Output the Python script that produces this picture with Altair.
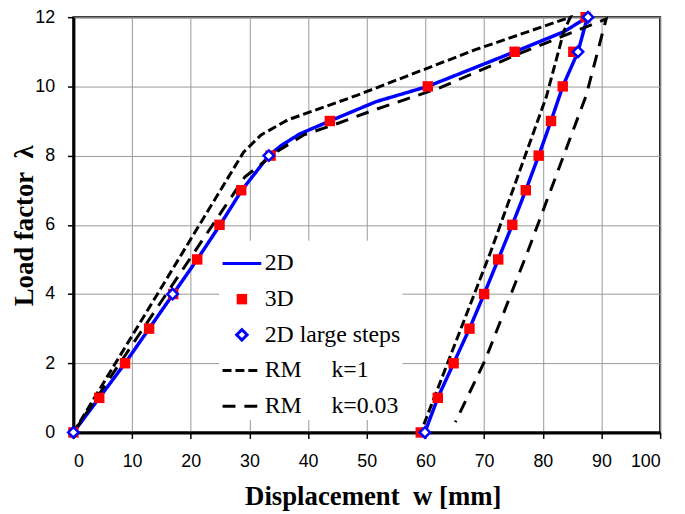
import altair as alt
import pandas as pd

# ---- data ----
S2D = "2D"
S3D = "3D"
SLS = "2D large steps"
SK1 = "RM\u00a0\u00a0\u00a0\u00a0\u00a0k=1"
SK3 = "RM\u00a0\u00a0\u00a0\u00a0\u00a0k=0.03"
series_names = [S2D, S3D, SLS, SK1, SK3]
stroke_colors = ["#0000ff", "transparent", "#0000ff", "#000000", "#000000"]
fill_colors = ["transparent", "#ff0000", "#ffffff", "transparent", "transparent"]
# symbol outlines in units of half the symbol box (box = 39 px)
LINE_PATH = "M-1,0H1"
SQUARE_PATH = "M-0.27,-0.27H0.27V0.27H-0.27Z"
DIAMOND_PATH = "M-0.27,0L0,-0.27L0.27,0L0,0.27Z"
symbol_shapes = [LINE_PATH, SQUARE_PATH, DIAMOND_PATH, LINE_PATH, LINE_PATH]
dash_styles = [[1, 0], [1, 0], [1, 0], [9, 4], [13, 9]]

w_2d = [0, 4.4, 8.8, 12.9, 17.0, 21.1, 25.0, 28.7, 33.3, 35.5, 38.5, 43.7, 51.6, 60.4, 75.2, 83.6, 87.6,
        86.0, 83.4, 81.4, 79.3, 77.1, 74.8, 72.4, 70.0, 67.5, 64.8, 62.1, 59.9]
lam_2d = [0, 1, 2, 3, 4, 5, 6, 7, 8, 8.3, 8.62, 9.0, 9.56, 10, 11, 11.58, 12,
          11, 10, 9, 8, 7, 6, 5, 4, 3, 2, 1, 0]

w_3d = [0, 4.4, 8.8, 12.9, 17.0, 21.1, 24.9, 28.6, 33.6, 43.7, 60.4, 75.2, 87.3,
        85.2, 83.4, 81.4, 79.3, 77.1, 74.8, 72.4, 70.0, 67.5, 64.8, 62.1, 59.2]
lam_3d = [0, 1, 2, 3, 4, 5, 6, 7, 8, 9, 10, 11, 12,
          11, 10, 9, 8, 7, 6, 5, 4, 3, 2, 1, 0]

w_ls = [0, 16.9, 33.3, 87.7, 86.0, 59.9]
lam_ls = [0, 4, 8, 12, 11, 0]

w_k1 = [0, 29.0, 32.0, 36.5, 48.3, 68.5, 84.7, 83.6, 80.6, 71.2, 59.2]
lam_k1 = [0, 8.1, 8.6, 9.03, 9.74, 11.06, 12, 11.6, 9.7, 5.26, 0]

w_k3 = [0, 29.2, 34.8, 39.3, 44.4, 51.1, 62.3, 76.3, 90.8, 87.4, 77.5, 70.2, 65.1]
lam_k3 = [0, 7.38, 8.13, 8.6, 8.89, 9.31, 9.95, 10.97, 11.95, 9.74, 5.26, 2.1, 0.3]

x_ticks = list(range(0, 101, 10))
y_ticks = list(range(0, 13, 2))

# ---- table ----
rows = []
for name, ws, ls in [(S2D, w_2d, lam_2d), (S3D, w_3d, lam_3d), (SLS, w_ls, lam_ls),
                     (SK1, w_k1, lam_k1), (SK3, w_k3, lam_k3)]:
    for i, (w, l) in enumerate(zip(ws, ls)):
        rows.append({"series": name, "w": w, "lam": l, "idx": i})
df = pd.DataFrame(rows)

legend = alt.Legend(
    title=None,
    orient="none",
    legendX=147,
    legendY=225.5,
    direction="vertical",
    fillColor="white",
    padding=2,
    labelFont="Liberation Serif",
    labelFontSize=24,
    labelColor="black",
    labelOffset=2,
    labelBaseline="middle",
    labelLimit=300,
    symbolSize=1521,
    symbolStrokeWidth=3,
    symbolOpacity=1,
    rowPadding=3,
)

stroke_enc = alt.Stroke("series:N", scale=alt.Scale(domain=series_names, range=stroke_colors),
                        legend=legend)
fill_enc = alt.Fill("series:N", scale=alt.Scale(domain=series_names, range=fill_colors), legend=legend)
shape_enc = alt.Shape("series:N", scale=alt.Scale(domain=series_names, range=symbol_shapes),
                      legend=legend)
dash_enc = alt.StrokeDash("series:N", scale=alt.Scale(domain=series_names, range=dash_styles),
                          legend=legend)

base = alt.Chart(df).encode(
    x=alt.X("w:Q", scale=alt.Scale(domain=[0, 100], nice=False, zero=False),
            axis=alt.Axis(values=x_ticks, title="Displacement\u00a0\u00a0w [mm]")),
    y=alt.Y("lam:Q", scale=alt.Scale(domain=[0, 12], nice=False),
            axis=alt.Axis(values=y_ticks, title="Load factor\u00a0\u00a0\u03bb")),
    stroke=stroke_enc,
    order=alt.Order("idx:Q"),
)

line2d = base.mark_line(strokeWidth=3.5).encode(strokeDash=dash_enc).transform_filter(
    alt.datum.series == S2D)
linek1 = base.mark_line(strokeWidth=3).encode(strokeDash=dash_enc).transform_filter(
    alt.datum.series == SK1)
linek3 = base.mark_line(strokeWidth=3).encode(strokeDash=dash_enc).transform_filter(
    alt.datum.series == SK3)
pts3d = base.mark_point(filled=True, opacity=1, strokeWidth=0, size=1521).encode(
    fill=fill_enc, shape=shape_enc).transform_filter(alt.datum.series == S3D)
ptsls = base.mark_point(filled=True, opacity=1, strokeWidth=2.5, size=1521).encode(
    fill=fill_enc, shape=shape_enc).transform_filter(alt.datum.series == SLS)

chart = alt.layer(line2d, linek1, linek3, pts3d, ptsls).properties(
    width=592,
    height=419,
    autosize=alt.AutoSizeParams(type="none"),
    padding={"left": 66, "top": 7, "right": 17, "bottom": 80},
).configure_view(
    stroke="black", strokeWidth=2
).configure_axis(
    labelFont="Liberation Sans",
    labelFontSize=18,
    labelColor="black",
    tickColor="black",
    tickWidth=1.5,
    tickSize=6,
    domainColor="black",
    domainWidth=3,
    gridColor="#999999",
    gridWidth=1,
    titleFont="Liberation Serif",
    titleFontSize=27,
    titleFontWeight="bold",
    titleColor="black",
).configure_axisX(
    labelPadding=14,
    titleX=302,
    titleY=73,
    titleAlign="center",
    titleBaseline="alphabetic",
).configure_axisY(
    labelPadding=13,
    titleX=-41,
    titleY=210,
    titleAngle=270,
    titleAlign="center",
    titleBaseline="alphabetic",
)

chart.save("out.html", embed_options={"renderer": "svg", "actions": False})
